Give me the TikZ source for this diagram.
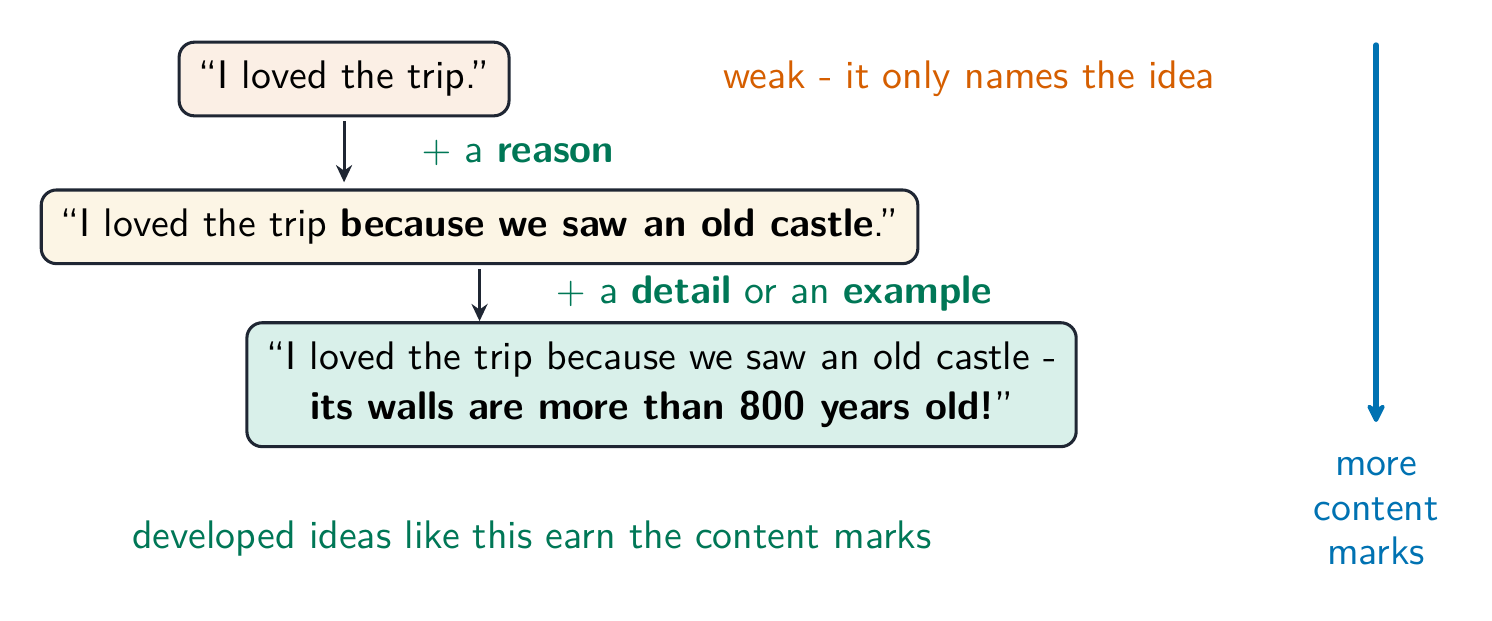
\documentclass[tikz,border=0pt]{standalone}
\usepackage{tikz}
\renewcommand{\familydefault}{\sfdefault}
\definecolor{inkdark}{HTML}{1F2633}
\definecolor{okorange}{HTML}{D55E00}
\definecolor{okyellow}{HTML}{E69F00}
\definecolor{okgreen}{HTML}{009E73}
\definecolor{okblue}{HTML}{0072B2}
\colorlet{textgreen}{okgreen!75!black}
\tikzset{
    every node/.style={font=\fontsize{10.4}{12.5}\selectfont},
    sentence/.style={rectangle,rounded corners=4pt,draw=inkdark,line width=0.8pt,text centered,inner xsep=5.1pt,inner ysep=5pt},
    addlabel/.style={text=textgreen,anchor=west},
    note/.style={text centered},
}
\usetikzlibrary{arrows.meta}
\usetikzlibrary{positioning}

\begin{document}
\begin{tikzpicture}[>={Stealth[length=4.5pt,width=4.2pt]}]
\useasboundingbox (0,0) rectangle (13.69,-5.69);
\node[sentence,fill=okorange!10] (weak) at (3.157,-0.725) {``I loved the trip.''};
\node[sentence,fill=okyellow!10] (reason) [below=0.652cm of weak,xshift=1.243cm] {``I loved the trip \textbf{because we saw an old castle}.''};
\node[sentence,fill=okgreen!15,align=center] (detail) [below=0.514cm of reason,xshift=1.67cm] {``I loved the trip because we saw an old castle -\\[0.5pt]\textbf{its walls are more than 800 years old!}''};
\draw[->,inkdark,line width=0.8pt,shorten <=1pt,shorten >=1.6pt] (weak.south) -- (weak.south |- reason.north)
    node[midway,addlabel,xshift=0.58cm] (plusreason) {$+$ a \textbf{reason}};
\draw[->,inkdark,line width=0.8pt,shorten <=1pt] (reason.south) -- (reason.south |- detail.north)
    node[midway,addlabel,xshift=0.57cm] (plusdetail) {$+$ a \textbf{detail} or an \textbf{example}};
\node[note,text=okorange,anchor=west] (weaknote) [right=1.83cm of weak] {weak - it only names the idea};
\node[note,text=textgreen] (goodnote) at (4.88,-4.937) {developed ideas like this earn the content marks};
% more marks scale
\coordinate (top) at (12.626,-0.413);
\coordinate (bottom) at (12.626,-3.872);
\draw[->,okblue,line width=1.4pt,line cap=round,>={Stealth[length=6pt,width=6pt,round]}] (top) -- (bottom);
\node[note,text=okblue,align=center,font=\fontsize{10.4}{11.6}\selectfont] (marks) [below=0.2cm of bottom] {more\\content\\marks};
\end{tikzpicture}
\end{document}
